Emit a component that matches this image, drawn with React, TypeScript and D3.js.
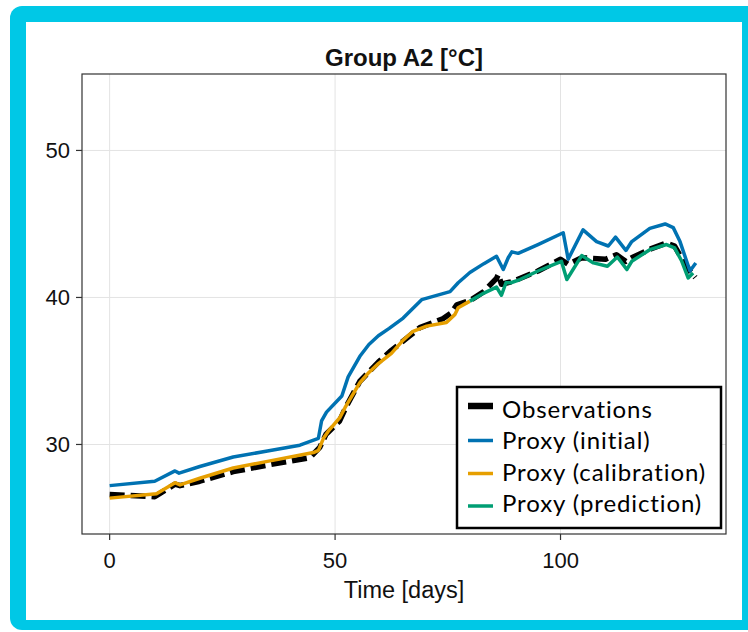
import React from "react";
import * as d3 from "d3";

// Observed temperatures (days, °C)
const obsDays = [0, 10, 14.5, 15.6, 20, 27.4, 35, 44.4, 46.6, 48, 51, 52.5, 55.5, 59.6, 62.5, 66.6, 68.8, 73.9, 75.8, 77, 80, 83, 85.8, 86.2, 86.9, 89.5, 95, 100, 101.7, 104.7, 110, 112.4, 114.5, 115.8, 120, 123.5, 125.3, 127, 128.7, 129.9];
const obsTemp = [26.6, 26.45, 27.3, 27.2, 27.5, 28.15, 28.6, 29.1, 29.8, 30.7, 31.6, 32.6, 34.3, 35.6, 36.4, 37.4, 37.95, 38.55, 38.95, 39.5, 39.8, 40.4, 41.3, 41.56, 40.9, 41.1, 41.8, 42.6, 42.25, 42.7, 42.6, 42.9, 42.45, 42.7, 43.3, 43.7, 43.5, 42.6, 41.8, 41.35];

// Proxy with initial parameters
const initDays = [0, 10, 14.5, 15.4, 20, 27.4, 35, 42.2, 46.3, 47, 48.1, 51.5, 52.9, 55.5, 57.5, 59.6, 62, 65.1, 69.2, 75.5, 77.3, 79.9, 83, 85.8, 87.3, 88.4, 89.2, 90.6, 95, 100.6, 101.7, 105, 108, 110.6, 112.2, 114.5, 115.8, 119.8, 123.2, 125, 126.5, 128.7, 130];
const initTemp = [27.2, 27.5, 28.2, 28.05, 28.5, 29.15, 29.55, 29.95, 30.42, 31.6, 32.2, 33.3, 34.6, 36.0, 36.8, 37.4, 37.9, 38.6, 39.85, 40.4, 41.0, 41.7, 42.3, 42.8, 41.9, 42.7, 43.1, 43.0, 43.6, 44.4, 42.6, 44.6, 43.8, 43.5, 44.1, 43.2, 43.8, 44.7, 45.0, 44.75, 43.8, 41.8, 42.35];

// Proxy over the calibration window
const calDays = [0, 10.4, 14.5, 15.6, 20, 27.4, 35, 45.2, 46.3, 47.4, 48.5, 51.1, 52.2, 55.5, 57.5, 59.6, 62.5, 65.1, 67.3, 70.3, 74.7, 76.6, 77.3, 79.9];
const calTemp = [26.35, 26.65, 27.4, 27.25, 27.7, 28.4, 28.85, 29.45, 29.6, 30.4, 30.9, 31.85, 32.5, 34.2, 34.9, 35.5, 36.2, 37.1, 37.7, 38.05, 38.3, 38.85, 39.3, 39.75];

// Proxy over the prediction window
const predDays = [79.9, 83, 85.8, 86.9, 87.9, 89, 91, 95, 100.2, 101.4, 104.7, 107.3, 110.4, 112.6, 114.7, 115.8, 119.8, 123.5, 125.3, 126.9, 128.3, 129.4];
const predTemp = [39.75, 40.3, 40.7, 40.15, 41.0, 41.0, 41.22, 41.8, 42.46, 41.22, 42.85, 42.35, 42.12, 42.75, 41.9, 42.46, 43.25, 43.6, 43.37, 42.46, 41.33, 41.67];

const xTicks = [0, 50, 100];
const yTicks = [30, 40, 50];
const legendLabels = ["Observations", "Proxy (initial)", "Proxy (calibration)", "Proxy (prediction)"];

const W = 748;
const H = 632;
const plot = { left: 82, right: 726, top: 74, bottom: 534 };

const x = d3.scaleLinear().domain([-6.13, 136.7]).range([plot.left, plot.right]);
const y = d3.scaleLinear().domain([23.91, 55.2]).range([plot.bottom, plot.top]);

const toPts = (ds: number[], vs: number[]) => ds.map((d, i) => [d, vs[i]] as [number, number]);
const line = d3
  .line<[number, number]>()
  .x((p) => x(p[0]))
  .y((p) => y(p[1]));

const BLUE = "#0072B2";
const ORANGE = "#E69F00";
const GREEN = "#009E73";
const CYAN = "#00c8e6";

export default function App() {
  const font = "'Liberation Sans', Arial, Helvetica, sans-serif";
  const legend = { x: 457, y: 387, w: 264, h: 141 };
  const rows = [
    { color: "#000", width: 6.5, dy: 406 },
    { color: BLUE, width: 3.5, dy: 440.5 },
    { color: ORANGE, width: 3.5, dy: 473.5 },
    { color: GREEN, width: 3.5, dy: 506 },
  ];
  const baselines = [417.5, 449, 481, 512];

  return (
    <div style={{ position: "absolute", left: 0, top: 0 }}>
      <svg width={W} height={H} viewBox={`0 0 ${W} ${H}`} style={{ display: "block" }}>
        <rect x={0} y={0} width={W} height={H} fill="#fff" />
        <rect x={10} y={6} width={W + 20} height={624} rx={12} fill={CYAN} />
        <rect x={26} y={22} width={716} height={598} fill="#fff" />

        {/* grid */}
        {xTicks.map((t) => (
          <line key={`gx${t}`} x1={x(t)} x2={x(t)} y1={plot.top} y2={plot.bottom} stroke="#e3e3e3" strokeWidth={1} />
        ))}
        {yTicks.map((t) => (
          <line key={`gy${t}`} x1={plot.left} x2={plot.right} y1={y(t)} y2={y(t)} stroke="#e3e3e3" strokeWidth={1} />
        ))}

        {/* series */}
        <path d={line(toPts(obsDays, obsTemp)) ?? ""} fill="none" stroke="#000" strokeWidth={5.5} strokeDasharray="15 6" strokeLinejoin="round" />
        <path d={line(toPts(initDays, initTemp)) ?? ""} fill="none" stroke={BLUE} strokeWidth={3.5} strokeLinejoin="round" />
        <path d={line(toPts(calDays, calTemp)) ?? ""} fill="none" stroke={ORANGE} strokeWidth={3.5} strokeLinejoin="round" />
        <path d={line(toPts(predDays, predTemp)) ?? ""} fill="none" stroke={GREEN} strokeWidth={3.5} strokeLinejoin="round" />

        {/* frame */}
        <rect x={plot.left} y={plot.top} width={plot.right - plot.left} height={plot.bottom - plot.top} fill="none" stroke="#333" strokeWidth={1.2} />

        {/* y axis */}
        {yTicks.map((t) => (
          <g key={`ty${t}`}>
            <line x1={plot.left - 6} x2={plot.left} y1={y(t)} y2={y(t)} stroke="#333" strokeWidth={1.2} />
            <text x={70} y={y(t)} dy="0.35em" textAnchor="end" fontFamily={font} fontSize={22} fill="#111">
              {t}
            </text>
          </g>
        ))}

        {/* x axis */}
        {xTicks.map((t) => (
          <g key={`tx${t}`}>
            <line x1={x(t)} x2={x(t)} y1={plot.bottom} y2={plot.bottom + 6} stroke="#333" strokeWidth={1.2} />
            <text x={x(t)} y={567.5} textAnchor="middle" fontFamily={font} fontSize={22} fill="#111">
              {t}
            </text>
          </g>
        ))}
        <text x={(plot.left + plot.right) / 2} y={598} textAnchor="middle" fontFamily={font} fontSize={23.5} fill="#111">
          Time [days]
        </text>

        {/* title */}
        <text x={(plot.left + plot.right) / 2} y={66} textAnchor="middle" fontFamily={font} fontWeight="bold" fontSize={24} fill="#111">
          Group A2 [°C]
        </text>

        {/* legend */}
        <rect x={legend.x} y={legend.y} width={legend.w} height={legend.h} fill="#fff" stroke="#000" strokeWidth={2.5} />
        {rows.map((r, i) => (
          <g key={`lg${i}`}>
            <line x1={468} x2={493} y1={r.dy} y2={r.dy} stroke={r.color} strokeWidth={r.width} />
            <text x={502} y={baselines[i]} fontFamily="Lato, 'Open Sans', sans-serif" fontSize={24} letterSpacing={0.9} fill="#000">
              {legendLabels[i]}
            </text>
          </g>
        ))}
      </svg>
    </div>
  );
}
